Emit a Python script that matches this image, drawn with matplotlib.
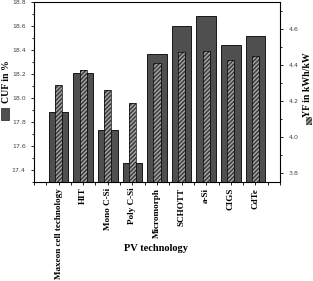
import matplotlib
matplotlib.use("Agg")
from matplotlib import pyplot as plt
from matplotlib.patches import Rectangle
from matplotlib.ticker import MultipleLocator

tecnologias = ["Maxeon cell technology", "HIT", "Mono C-Si", "Poly C-Si", "Micromorph",
               "SCHOTT", "a-Si", "CIGS", "CdTe"]
cuf = [17.88, 18.21, 17.73, 17.46, 18.37, 18.60, 18.68, 18.44, 18.52]
yf = [4.29, 4.37, 4.26, 4.19, 4.41, 4.47, 4.48, 4.43, 4.45]

serif = "Liberation Serif"
pos = list(range(1, len(tecnologias) + 1))

fig = plt.figure(figsize=(3.13, 2.81), dpi=100)
ax = fig.add_axes([0.1086, 0.352, 0.786, 0.641])
ax2 = ax.twinx()

ax.bar(pos, cuf, width=0.8, color="#4f4f4f", edgecolor="black", linewidth=0.6, zorder=2)
# hatched bars: fill+hatch first, then a plain black outline
ax2.bar(pos, yf, width=0.3, color="#3c3c3c", edgecolor="#a8a8a8", hatch="////////", linewidth=0, zorder=3)
ax2.bar(pos, yf, width=0.3, fill=False, edgecolor="black", linewidth=0.5, zorder=4)

ax.set_xlim(0, 10)
ax.set_ylim(17.3, 18.8)
ax2.set_ylim(3.75, 4.75)

ax.set_xticks(pos)
ax.set_xticklabels(tecnologias, rotation=90, fontfamily=serif, fontweight="bold", fontsize=6.6)
ax.xaxis.set_minor_locator(MultipleLocator(0.5))
ax.yaxis.set_major_locator(MultipleLocator(0.2))
ax.yaxis.set_minor_locator(MultipleLocator(0.1))
ax2.yaxis.set_major_locator(MultipleLocator(0.2))
ax2.yaxis.set_minor_locator(MultipleLocator(0.1))

ax.tick_params(axis="x", which="both", top=False, direction="out", length=2, width=0.6, pad=2)
ax2.tick_params(axis="x", which="both", top=True, bottom=False, labeltop=False, labelbottom=False,
                direction="in", length=2, width=0.6)
ax.tick_params(axis="y", which="major", direction="out", length=2.5, width=0.6, labelsize=4.5, labelcolor="#444444")
ax.tick_params(axis="y", which="minor", direction="out", length=1.5, width=0.6)
ax2.tick_params(axis="y", which="major", direction="out", length=2.5, width=0.6, labelsize=4.5, labelcolor="#444444")
ax2.tick_params(axis="y", which="minor", direction="out", length=1.5, width=0.6)
for s in ax.spines.values():
    s.set_linewidth(0.7)

fig.text(0.5, 0.117, "PV technology", ha="center", va="center",
         fontfamily=serif, fontweight="bold", fontsize=7.5)

# axis labels with legend swatches
fig.text(0.022, 0.708, "CUF in %", rotation=90, ha="center", va="center",
         fontfamily=serif, fontweight="bold", fontsize=7)
fig.patches.append(Rectangle((0.002, 0.573), 0.026, 0.043, transform=fig.transFigure,
                             facecolor="#4f4f4f", edgecolor="black", linewidth=0.4))
fig.text(0.982, 0.698, "YF in kWh/kW", rotation=90, ha="center", va="center",
         fontfamily=serif, fontweight="bold", fontsize=7)
fig.patches.append(Rectangle((0.978, 0.555), 0.02, 0.027, transform=fig.transFigure,
                             facecolor="#3c3c3c", edgecolor="#a8a8a8", hatch="////////", linewidth=0))

fig.savefig("out.png", dpi=100)
